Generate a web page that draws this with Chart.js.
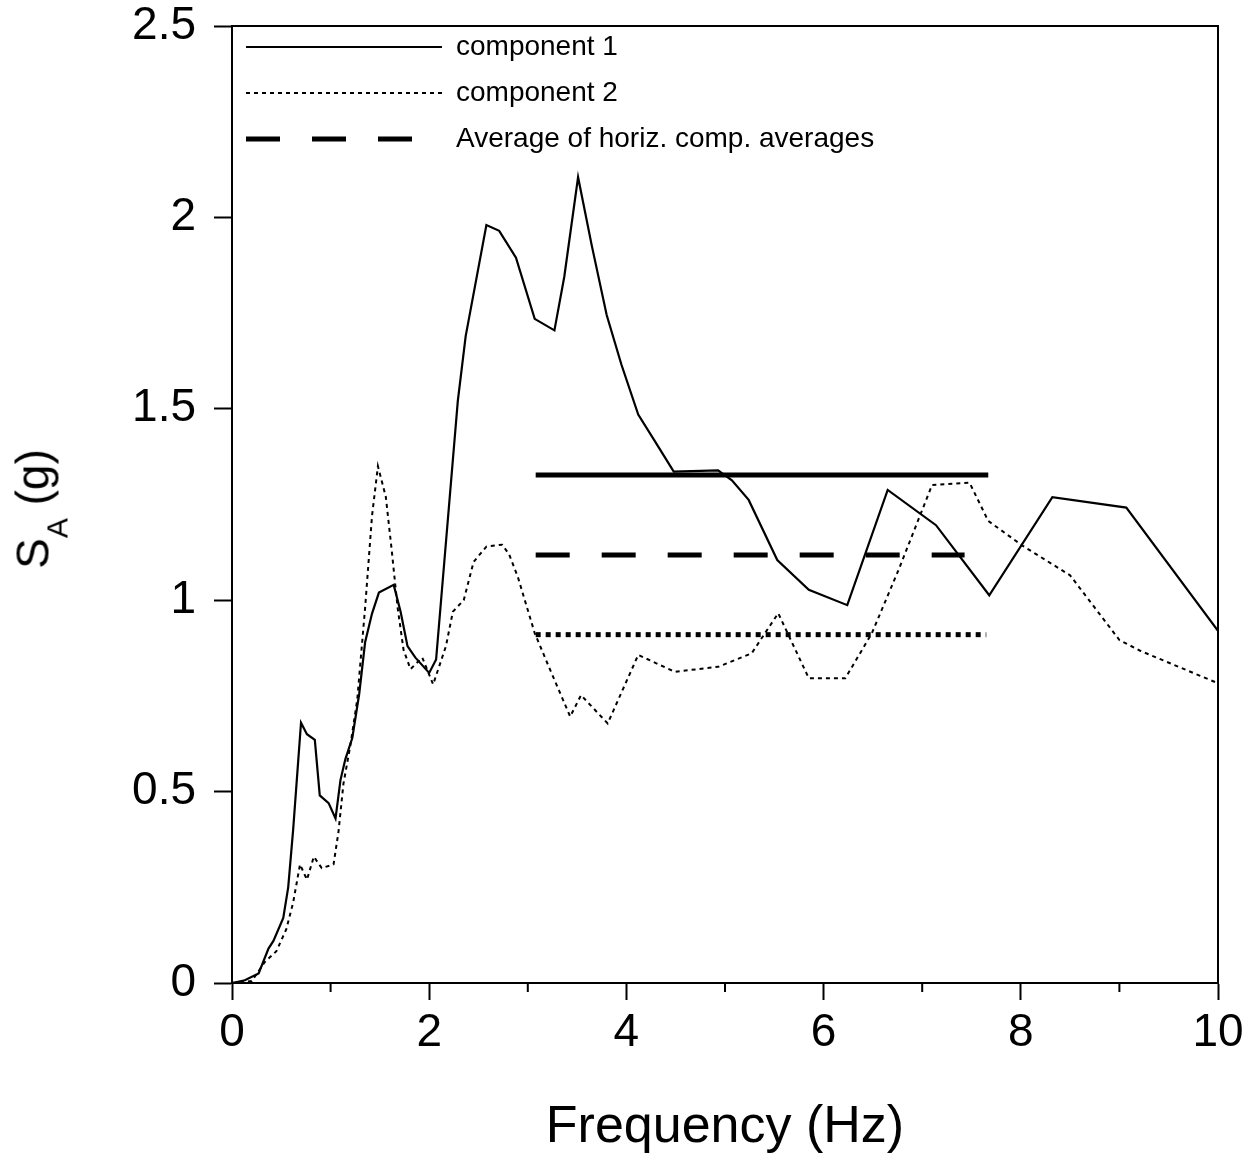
<!DOCTYPE html>
<html>
<head>
<meta charset="utf-8">
<script src="https://cdn.jsdelivr.net/npm/chart.js@4.4.1/dist/chart.umd.min.js"></script>
<style>
html,body{margin:0;padding:0;background:#fff;}
#wrap{position:relative;width:1260px;height:1162px;}
#ylab{position:absolute;left:41px;top:509px;transform:translate(-50%,-50%) rotate(-90deg);font-family:'Liberation Sans',Arial,sans-serif;font-size:46px;white-space:nowrap;color:#000;line-height:1;}
#ylab sub{font-size:30px;vertical-align:-19px;line-height:1;}
</style>
</head>
<body>
<div id="wrap">
<canvas id="c" width="1260" height="1162"></canvas>
<div id="ylab">S<sub>A</sub> (g)</div>
</div>
<script>
// ---- data ----
const freq1 = [0, 0.13, 0.27, 0.37, 0.42, 0.52, 0.57, 0.62, 0.70, 0.76, 0.84, 0.89, 0.98, 1.05, 1.10, 1.15, 1.22, 1.29, 1.35, 1.42, 1.49, 1.64, 1.71, 1.78, 1.86, 2.00, 2.07, 2.29, 2.37, 2.58, 2.71, 2.88, 3.07, 3.27, 3.37, 3.51, 3.65, 3.80, 3.95, 4.12, 4.29, 4.48, 4.93, 5.07, 5.24, 5.53, 5.85, 6.24, 6.65, 7.14, 7.68, 8.32, 9.07, 10];
const comp1 = [0, 0.007, 0.025, 0.09, 0.11, 0.17, 0.25, 0.40, 0.68, 0.65, 0.635, 0.49, 0.47, 0.43, 0.53, 0.585, 0.64, 0.755, 0.89, 0.965, 1.02, 1.04, 0.97, 0.88, 0.85, 0.81, 0.845, 1.52, 1.69, 1.98, 1.965, 1.895, 1.735, 1.705, 1.845, 2.105, 1.925, 1.745, 1.615, 1.485, 1.415, 1.336, 1.339, 1.313, 1.262, 1.105, 1.027, 0.987, 1.288, 1.196, 1.013, 1.269, 1.242, 0.92];

const freq2 = [0, 0.2, 0.33, 0.45, 0.55, 0.62, 0.69, 0.76, 0.83, 0.91, 1.03, 1.08, 1.13, 1.20, 1.27, 1.35, 1.42, 1.48, 1.56, 1.62, 1.68, 1.74, 1.81, 1.93, 2.04, 2.17, 2.24, 2.35, 2.45, 2.58, 2.74, 2.81, 2.90, 3.07, 3.24, 3.43, 3.54, 3.81, 4.12, 4.49, 4.93, 5.27, 5.54, 5.85, 6.22, 6.49, 6.76, 7.10, 7.48, 7.67, 8.02, 8.5, 9.00, 9.21, 10];
const comp2 = [0, 0.005, 0.054, 0.083, 0.14, 0.21, 0.31, 0.27, 0.33, 0.30, 0.31, 0.395, 0.52, 0.62, 0.74, 0.98, 1.22, 1.35, 1.27, 1.13, 0.98, 0.87, 0.82, 0.85, 0.78, 0.88, 0.97, 1.0, 1.10, 1.14, 1.145, 1.12, 1.06, 0.914, 0.81, 0.696, 0.752, 0.678, 0.857, 0.813, 0.826, 0.861, 0.966, 0.796, 0.796, 0.914, 1.079, 1.301, 1.307, 1.207, 1.142, 1.065, 0.896, 0.868, 0.783];

const avgFreq1 = [3.08, 7.67];
const avgComp1 = [1.327, 1.327];
const avgFreqH = [3.08, 7.43];
const avgHoriz = [1.118, 1.118];
const avgFreq2 = [3.08, 7.65];
const avgComp2 = [0.91, 0.91];

const xTicks = [0, 2, 4, 6, 8, 10];
const xMinorTicks = [1, 3, 5, 7, 9];
const yTicks = [0, 0.5, 1, 1.5, 2, 2.5];
const seriesLabels = ['component 1', 'component 2', 'Average of horiz. comp. averages', 'component 1 average', 'component 2 average'];
const legendLabels = ['component 1', 'component 2', 'Average of horiz. comp. averages'];
const xTitle = 'Frequency (Hz)';

const FONT = "'Liberation Sans', Arial, sans-serif";
const pts = (xs, ys) => xs.map((x, i) => ({x: x, y: ys[i]}));

const framePlugin = {
  id: 'frame',
  afterLayout(chart) {
    const lg = chart.legend, a = chart.chartArea;
    if (lg) {
      const w = lg.width, h = lg.height;
      lg.left = a.left - 4; lg.top = a.top - 11;
      lg.right = lg.left + w; lg.bottom = lg.top + h;
    }
  },
  afterDraw(chart) {
    const ctx = chart.ctx, a = chart.chartArea, xs = chart.scales.x;
    ctx.save();
    ctx.strokeStyle = '#000';
    ctx.lineWidth = 2;
    ctx.setLineDash([]);
    ctx.beginPath();
    ctx.moveTo(a.left, a.top);
    ctx.lineTo(a.right, a.top);
    ctx.lineTo(a.right, a.bottom);
    xMinorTicks.forEach(v => {
      const p = xs.getPixelForValue(v);
      ctx.moveTo(p, a.bottom);
      ctx.lineTo(p, a.bottom + 9);
    });
    ctx.stroke();
    ctx.restore();
  }
};

new Chart(document.getElementById('c'), {
  type: 'line',
  data: {
    datasets: [
      {label: seriesLabels[0], data: pts(freq1, comp1), borderColor: '#000', backgroundColor: '#000', borderWidth: 2.2, pointRadius: 0, tension: 0, fill: false},
      {label: seriesLabels[1], data: pts(freq2, comp2), borderColor: '#000', backgroundColor: '#000', borderWidth: 2, borderDash: [4, 4], pointRadius: 0, tension: 0, fill: false},
      {label: seriesLabels[2], data: pts(avgFreqH, avgHoriz), borderColor: '#000', backgroundColor: '#000', borderWidth: 5, borderDash: [34, 32], pointRadius: 0, fill: false},
      {label: seriesLabels[3], data: pts(avgFreq1, avgComp1), borderColor: '#000', backgroundColor: '#000', borderWidth: 5, pointRadius: 0, fill: false},
      {label: seriesLabels[4], data: pts(avgFreq2, avgComp2), borderColor: '#000', backgroundColor: '#000', borderWidth: 5, borderDash: [5, 5], pointRadius: 0, fill: false}
    ]
  },
  options: {
    responsive: false,
    animation: false,
    events: [],
    layout: {padding: {left: 0, top: 26, right: 42, bottom: 0}},
    plugins: {
      tooltip: {enabled: false},
      legend: {
        position: 'chartArea',
        align: 'start',
        labels: {
          usePointStyle: true,
          pointStyle: 'line',
          pointStyleWidth: 196,
          padding: 18,
          color: '#000',
          font: {size: 28, family: FONT},
          generateLabels: (chart) => chart.data.datasets.map((ds, i) => ({
            text: ds.label,
            strokeStyle: ds.borderColor,
            fillStyle: ds.borderColor,
            lineWidth: ds.borderWidth,
            lineDash: ds.borderDash || [],
            lineCap: 'butt',
            pointStyle: 'line',
            hidden: false,
            fontColor: '#000',
            datasetIndex: i
          })),
          filter: (item) => legendLabels.includes(item.text)
        }
      }
    },
    scales: {
      x: {
        type: 'linear',
        min: 0, max: 10,
        afterBuildTicks: (s) => { s.ticks = xTicks.map(v => ({value: v})); },
        afterFit: (s) => { s.height = 179; s.paddingLeft = 0; s.paddingRight = 0; },
        ticks: {color: '#000', font: {size: 46, family: FONT}, padding: 6, maxRotation: 0, autoSkip: false, callback: (v) => String(v)},
        grid: {drawOnChartArea: false, drawTicks: true, tickLength: 17, tickColor: '#000', tickWidth: 2, color: '#000'},
        border: {display: true, color: '#000', width: 2},
        title: {display: true, text: xTitle, color: '#000', font: {size: 52, family: FONT}, padding: {top: 0, bottom: 3}}
      },
      y: {
        type: 'linear',
        min: 0, max: 2.5,
        afterBuildTicks: (s) => { s.ticks = yTicks.map(v => ({value: v})); },
        afterFit: (s) => { s.width = 232; s.paddingTop = 0; s.paddingBottom = 0; },
        ticks: {color: '#000', font: {size: 46, family: FONT}, padding: 18, autoSkip: false, callback: (v) => String(v)},
        grid: {drawOnChartArea: false, drawTicks: true, tickLength: 18, tickColor: '#000', tickWidth: 2, color: '#000'},
        border: {display: true, color: '#000', width: 2}
      }
    }
  },
  plugins: [framePlugin]
});
</script>
</body>
</html>
